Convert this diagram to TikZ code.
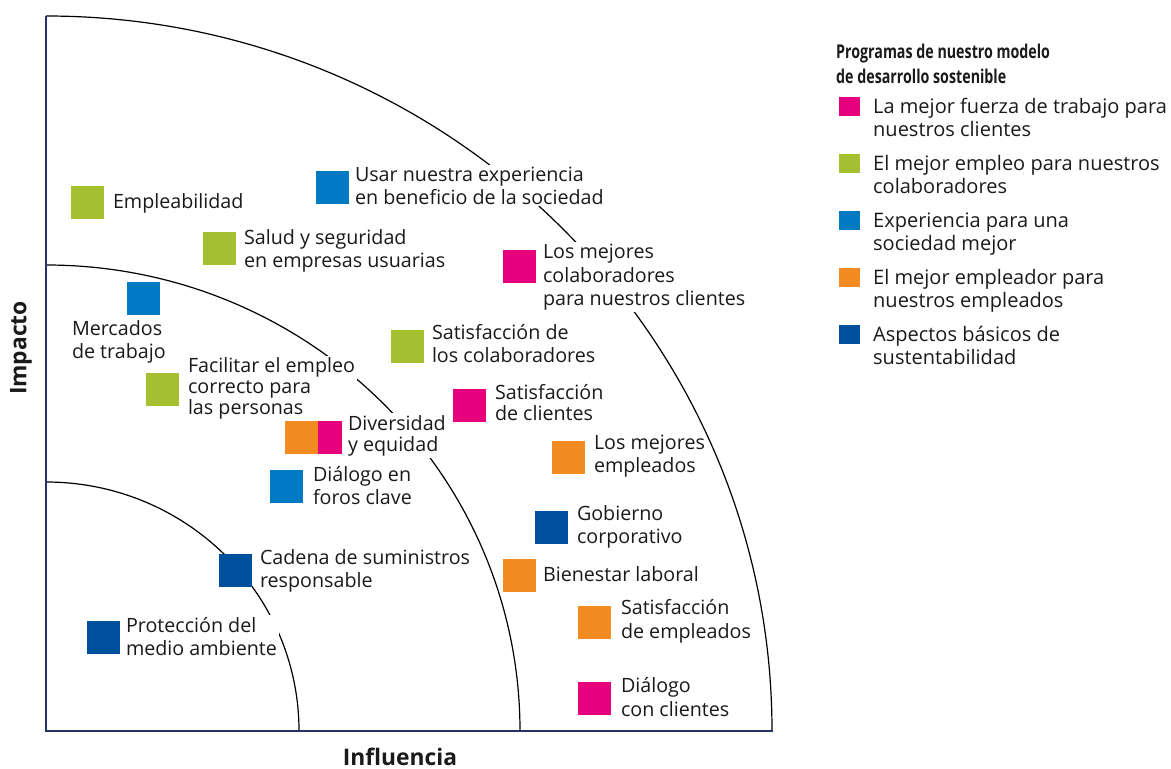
\documentclass[tikz,border=0pt]{standalone}
\usepackage{fontspec}
\setmainfont{Open Sans}
\newfontfamily\condbold{Open Sans}[FakeStretch=0.75]
\definecolor{cpink}{RGB}{230,0,126}
\definecolor{cgreen}{RGB}{164,192,49}
\definecolor{cblue}{RGB}{0,123,195}
\definecolor{corange}{RGB}{243,139,35}
\definecolor{cnavy}{RGB}{0,81,157}
\definecolor{caxis}{RGB}{38,50,100}
\definecolor{ctext}{RGB}{26,26,26}
\begin{document}
\begin{tikzpicture}[x=1pt,y=-1pt,
  sq/.style={anchor=north west, inner sep=0pt, outer sep=0pt, minimum width=33pt, minimum height=33pt},
  lab/.style={anchor=base west, align=left, inner sep=2pt, outer sep=0pt, fill=white, text=ctext,
              font=\fontsize{19.7}{22.5}\selectfont},
  legsq/.style={anchor=north west, inner sep=0pt, outer sep=0pt, minimum width=21pt, minimum height=19pt},
  legtxt/.style={anchor=base west, align=left, inner sep=0pt, text=ctext,
              font=\fontsize{20}{23}\selectfont},
  ring/.style={line width=1.2pt, black},
  axis/.style={line width=2.2pt, caxis},
  axlab/.style={text=ctext, inner sep=0pt, font=\bfseries\fontsize{22.8}{26}\selectfont}]
\useasboundingbox (0,0) rectangle (1171,769);

% rings of influence (quarter ellipses around the origin)
\draw[ring] (46,16)  arc[start angle=-90, end angle=0, x radius=726, y radius=715];
\draw[ring] (46,265) arc[start angle=-90, end angle=0, x radius=474, y radius=466];
\draw[ring] (46,482) arc[start angle=-90, end angle=0, x radius=253, y radius=249];

% axes
\coordinate (top) at (46,16);
\coordinate (O) at (46,731);
\coordinate (right) at (773,731);
\draw[axis] (top) -- (O) -- (right);

% labels, placed by the baseline of their last line (white boxes interrupt the rings)
\node[lab] (t1) at (111,208) {Empleabilidad};
\node[lab] (t2) at (353,204) {Usar nuestra experiencia\\en beneficio de la sociedad};
\node[lab] (t3) at (242,267) {Salud y seguridad\\en empresas usuarias};
\node[lab, font=\fontsize{19.7}{23.3}\selectfont] (t4) at (541,305.5) {Los mejores\\colaboradores\\para nuestros clientes};
\node[lab] (t5) at (70,358) {Mercados\\de trabajo};
\node[lab] (t6) at (430,362) {Satisfacción de\\los colaboradores};
\node[lab, font=\fontsize{19.7}{20.7}\selectfont] (t7) at (186,414) {Facilitar el empleo\\correcto para\\las personas};
\node[lab, font=\fontsize{19.7}{21}\selectfont] (t8) at (493,420) {Satisfacción\\de clientes};
\node[lab, font=\fontsize{19.7}{21}\selectfont] (t9) at (346,451) {Diversidad\\y equidad};
\node[lab, fill=none] (t10) at (592,472) {Los mejores\\empleados};
\node[lab] (t11) at (311,504) {Diálogo en\\foros clave};
\node[lab] (t12) at (575,543) {Gobierno\\corporativo};
\node[lab] (t13) at (258,587) {Cadena de suministros\\responsable};
\node[lab] (t14) at (541,581) {Bienestar laboral};
\node[lab, font=\fontsize{19.7}{24}\selectfont] (t15) at (619,638) {Satisfacción\\de empleados};
\node[lab, font=\fontsize{19.7}{24}\selectfont] (t16) at (619,716) {Diálogo\\con clientes};
\node[lab] (t17) at (124,655) {Protección del\\medio ambiente};

% programme squares
\node[sq, fill=cgreen]  (s1)  at (71,186) {};
\node[sq, fill=cblue]   (s2)  at (316,171) {};
\node[sq, fill=cgreen]  (s3)  at (203,232) {};
\node[sq, fill=cpink]   (s4)  at (503,250) {};
\node[sq, fill=cblue]   (s5)  at (127,282) {};
\node[sq, fill=cgreen]  (s6)  at (391,330) {};
\node[sq, fill=cgreen]  (s7)  at (146,373) {};
\node[sq, fill=cpink]   (s8)  at (453,389) {};
\node[sq, fill=corange] (s9)  at (285,421) {};
\node[sq, fill=cpink, minimum width=24pt] (s9b) at (318,421) {};
\node[sq, fill=corange] (s10) at (552,441) {};
\node[sq, fill=cblue]   (s11) at (270,470) {};
\node[sq, fill=cnavy]   (s12) at (535,511) {};
\node[sq, fill=cnavy]   (s13) at (219,554) {};
\node[sq, fill=corange] (s14) at (503,559) {};
\node[sq, fill=corange] (s15) at (578,606) {};
\node[sq, fill=cpink]   (s16) at (578,682) {};
\node[sq, fill=cnavy]   (s17) at (87,621) {};

% axis titles
\node[axlab, rotate=90] (ylab) at (21,348) {Impacto};
\node[axlab, anchor=base, text depth=0pt] (xlab) at (400,765) {Influencia};

% legend
\node[legtxt, font=\condbold\bfseries\fontsize{19}{25}\selectfont] (lt) at (836,83) {Programas de nuestro modelo\\de desarrollo sostenible};
\node[legsq, fill=cpink]   (l1) at (839,97) {};
\node[legtxt] (lt1) at (873,136) {La mejor fuerza de trabajo para\\nuestros clientes};
\node[legsq, fill=cgreen]  (l2) at (839,154) {};
\node[legtxt] (lt2) at (873,193) {El mejor empleo para nuestros\\colaboradores};
\node[legsq, fill=cblue]   (l3) at (839,211) {};
\node[legtxt] (lt3) at (873,250) {Experiencia para una\\sociedad mejor};
\node[legsq, fill=corange] (l4) at (839,268) {};
\node[legtxt] (lt4) at (873,307) {El mejor empleador para\\nuestros empleados};
\node[legsq, fill=cnavy]   (l5) at (839,325) {};
\node[legtxt] (lt5) at (873,364) {Aspectos básicos de\\sustentabilidad};
\end{tikzpicture}
\end{document}
